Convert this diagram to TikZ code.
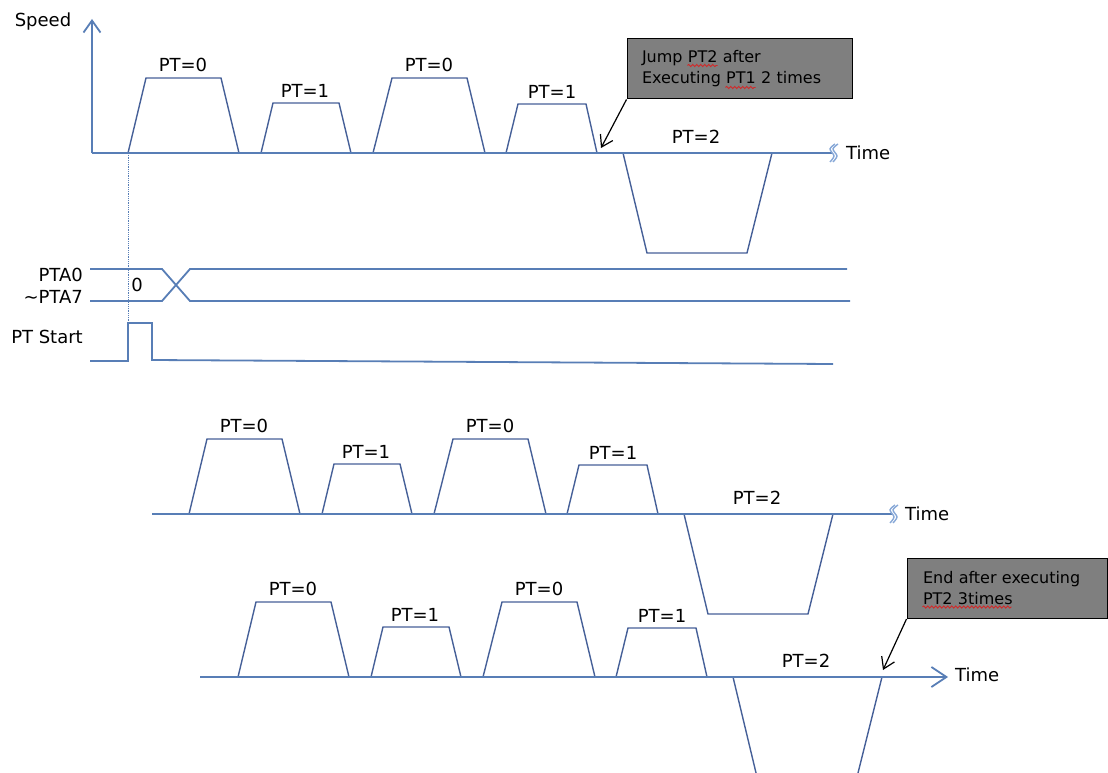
\documentclass[tikz,border=0pt]{standalone}
\usepackage{fontspec}
\setmainfont{DejaVu Sans}
\usetikzlibrary{arrows.meta,decorations.pathmorphing}

\definecolor{trapblue}{RGB}{70,96,152}
\definecolor{axisblue}{RGB}{88,126,182}
\definecolor{breakblue}{RGB}{135,168,215}
\definecolor{notegray}{RGB}{127,127,127}
\definecolor{waved}{RGB}{210,40,40}

% one cycle PT=0, PT=1, PT=0, PT=1, PT=2 (#1 = name prefix)
\newcommand{\ptcycle}[1]{%
  \draw[trap] (0,0) -- (18,-75) -- (93,-75) -- (111,0);
  \draw[trap] (133,0) -- (145,-50) -- (211,-50) -- (223,0);
  \draw[trap] (245,0) -- (264,-75) -- (339,-75) -- (357,0);
  \draw[trap] (378,0) -- (390,-49) -- (458,-49) -- (469,0);
  \draw[trap] (495,0) -- (519,100) -- (619,100) -- (644,0);
  \node[lbl] (#1a) at (55,-88) {PT=0};
  \node[lbl] (#1b) at (177,-62) {PT=1};
  \node[lbl] (#1c) at (301,-88) {PT=0};
  \node[lbl] (#1d) at (424,-61) {PT=1};
  \node[lbl] (#1e) at (568,-16) {PT=2};
}

% wave break at the end of a time axis
\newcommand{\axisbreak}[1]{%
  \begin{scope}[shift={(#1)}]
    \draw[brk] plot[smooth] coordinates {(3,-9) (-2,-4) (2,3) (-2,9)};
    \draw[brk] plot[smooth] coordinates {(6,-9) (1,-4) (5,3) (1,9)};
  \end{scope}
}

\begin{document}
\begin{tikzpicture}[x=1pt,y=-1pt,
    trap/.style={draw=trapblue,line width=1.4pt},
    axisln/.style={draw=axisblue,line width=1.8pt},
    brk/.style={draw=breakblue,line width=1.4pt},
    lbl/.style={font=\fontsize{18}{20}\selectfont,inner sep=0pt},
    note/.style={draw=black,fill=notegray,line width=1pt,
        font=\fontsize{16}{21}\selectfont,align=left,minimum height=60pt},
    wave/.style={draw=waved,line width=0.9pt,decorate,
        decoration={snake,amplitude=1.1pt,segment length=4pt}},
    callout/.style={-{Straight Barb[length=11pt,width=14pt]},line width=1.2pt}]
  \useasboundingbox (0,0) rectangle (1108,773);

  % speed profile, first run
  \begin{scope}[shift={(128,153)}]
    \ptcycle{top}
  \end{scope}
  \draw[axisln,-{Straight Barb[length=12pt,width=17pt]}] (92,153) -- (92,19);
  \node[lbl] (speed) at (43,22) {Speed};
  \coordinate (topend) at (832,153);
  \draw[axisln] (92,153) -- (topend);
  \axisbreak{topend}
  \node[lbl,anchor=west] (toptime) at (846,153) {Time};

  \node[note,text width=195pt,inner xsep=15pt] (jumpnote) at (739.5,69)
      {Jump PT2 after\\Executing PT1 2 times};
  \draw[wave] ([shift={(61,27)}]jumpnote.north west) -- ++(30,0);
  \draw[wave] ([shift={(99,49)}]jumpnote.north west) -- ++(30,0);
  \coordinate (jumppt) at (601,148);
  \draw[callout] (jumpnote.south west) -- (jumppt);

  % signals
  \draw[axisblue,line width=0.8pt,densely dotted] (128,153) -- (128,323);
  \draw[axisln] (90,269) -- (162,269) -- (190,301) -- (850,301);
  \draw[axisln] (90,301) -- (162,301) -- (190,269) -- (847,269);
  \node[lbl,anchor=east] (pta0) at (83,275) {PTA0};
  \node[lbl,anchor=east] (pta7) at (83,297) {\textasciitilde PTA7};
  \node[lbl] (zero) at (137,285) {0};
  \draw[axisln] (90,361) -- (128,361) -- (128,323) -- (152,323) -- (152,360) -- (833,364);
  \node[lbl,anchor=east] (ptstart) at (83,337) {PT Start};

  % second run
  \begin{scope}[shift={(189,514)}]
    \ptcycle{mid}
  \end{scope}
  \coordinate (midend) at (892,514);
  \draw[axisln] (152,514) -- (midend);
  \axisbreak{midend}
  \node[lbl,anchor=west] (midtime) at (905,514) {Time};

  % third run
  \begin{scope}[shift={(238,677)}]
    \ptcycle{bot}
  \end{scope}
  \draw[axisln,-{Straight Barb[length=15pt,width=20pt]}] (200,677) -- (948,677);
  \node[lbl,anchor=west] (bottime) at (955,675) {Time};

  \node[note,text width=168pt,inner xsep=16pt] (endnote) at (1007,588.5)
      {End after executing\\PT2 3times};
  \draw[wave] ([shift={(16,49)}]endnote.north west) -- ++(89,0);
  \coordinate (endpt) at (883,670);
  \draw[callout] (endnote.south west) -- (endpt);
\end{tikzpicture}
\end{document}
